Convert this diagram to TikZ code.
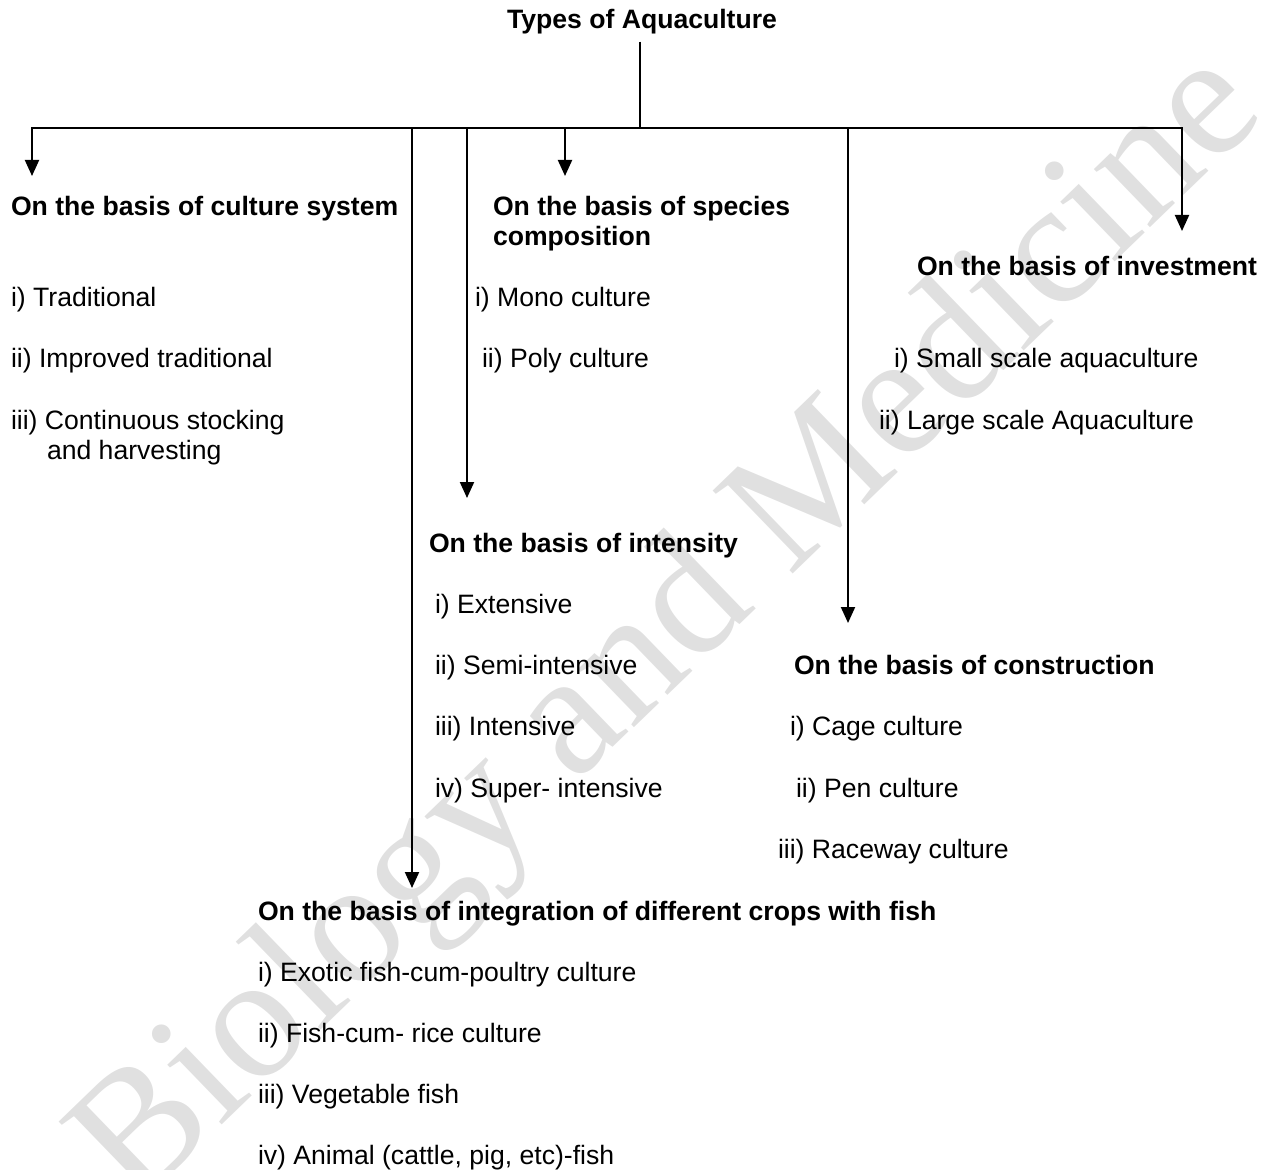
\documentclass[tikz,border=0pt]{standalone}
\usepackage{fontspec}
\setmainfont{Liberation Sans}
\newfontfamily\wmfont{Liberation Serif}
\usepackage{tikz}
\usetikzlibrary{arrows.meta, positioning}

\begin{document}
\begin{tikzpicture}[
  x=0.5pt, y=-0.5pt,
  head/.style={anchor=base west, inner sep=0pt, font=\fontsize{13.3}{15}\selectfont\bfseries},
  item/.style={anchor=base west, inner sep=0pt, font=\fontsize{13.3}{15}\selectfont},
  arr/.style={-{Triangle[width=7pt,length=8pt]}, line width=1pt},
  line width=1pt
]
\useasboundingbox (0,0) rectangle (1267,1170);
% watermark
\node[rotate=44, text=black!12, inner sep=0pt, font=\wmfont\fontsize{88}{92}\selectfont] (wm) at (672,632) {Biology and Medicine};

\node[anchor=base, inner sep=0pt, font=\fontsize{13.3}{15}\selectfont\bfseries] (title) at (642,29) {Types of Aquaculture};
\coordinate (hub) at (640,128);

% culture system
\node[head] (cult) at (10,215.5) {On the basis of culture system};
\node[item] (cult1) at (10,306.5) {i) Traditional};
\node[item] (cult2) at (10,367.5) {ii) Improved traditional};
\node[item] (cult3) at (10,429.5) {iii) Continuous stocking};
\node[item] (cult3b) at (46,459.5) {and harvesting};

% species composition
\node[head] (spec) at (492,215.5) {On the basis of species};
\node[head] (specb) at (492,245.5) {composition};
\node[item] (spec1) at (474,306.5) {i) Mono culture};
\node[item] (spec2) at (481,367.5) {ii) Poly culture};

% investment
\node[head] (inv) at (916,275.5) {On the basis of investment};
\node[item] (inv1) at (893,367.5) {i) Small scale aquaculture};
\node[item] (inv2) at (878,429.5) {ii) Large scale Aquaculture};

% intensity
\node[head] (int) at (428,552.5) {On the basis of intensity};
\node[item] (int1) at (434,613.5) {i) Extensive};
\node[item] (int2) at (434,674.5) {ii) Semi-intensive};
\node[item] (int3) at (434,735.5) {iii) Intensive};
\node[item] (int4) at (434,797.5) {iv) Super- intensive};

% construction
\node[head] (con) at (793,674.5) {On the basis of construction};
\node[item] (con1) at (789,735.5) {i) Cage culture};
\node[item] (con2) at (795,797.5) {ii) Pen culture};
\node[item] (con3) at (777,858.5) {iii) Raceway culture};

% integration
\node[head] (integ) at (257,920.5) {On the basis of integration of different crops with fish};
\node[item] (integ1) at (257,981.5) {i) Exotic fish-cum-poultry culture};
\node[item] (integ2) at (257,1042.5) {ii) Fish-cum- rice culture};
\node[item] (integ3) at (257,1103.5) {iii) Vegetable fish};
\node[item] (integ4) at (257,1164.5) {iv) Animal (cattle, pig, etc)-fish};

% arrow ends
\coordinate (tcult) at (32,176);
\coordinate (tinteg) at (412,888);
\coordinate (tint) at (467,498);
\coordinate (tspec) at (565,176);
\coordinate (tcon) at (848,623);
\coordinate (tinv) at (1182,231);

\draw ([yshift=-3pt]title.south -| hub) -- (hub);
\draw[arr] (hub) -| (tcult);
\draw[arr] (hub) -| (tinteg);
\draw[arr] (hub) -| (tint);
\draw[arr] (hub) -| (tspec);
\draw[arr] (hub) -| (tcon);
\draw[arr] (hub) -| (tinv);
\end{tikzpicture}
\end{document}
